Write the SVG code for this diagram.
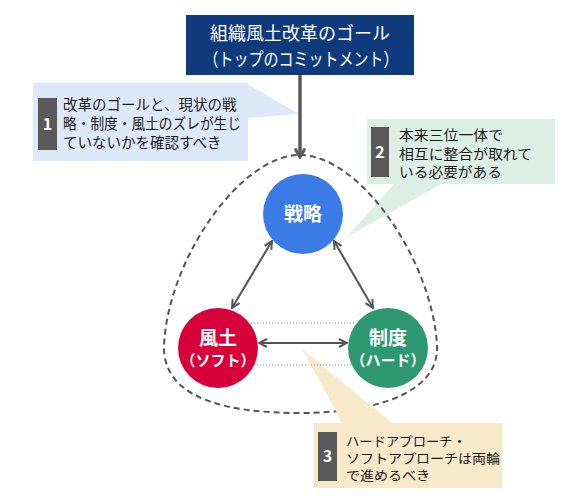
<svg xmlns="http://www.w3.org/2000/svg" width="585" height="500" viewBox="0 0 585 500">
  <style>
    text { font-family: "Noto Sans CJK JP", "Noto Sans", "Liberation Sans", sans-serif; }
    .goal { fill: #ffffff; font-size: 18px; }
    .note { fill: #1a1a1a; font-size: 14.5px; }
    .note2 { fill: #1a1a1a; font-size: 14px; }
    .note3 { fill: #1a1a1a; font-size: 13px; }
    .num { fill: #ffffff; font-size: 16px; font-weight: bold; text-anchor: middle; }
    .numbox { fill: #595959; }
    .big { fill: #ffffff; font-size: 19px; font-weight: bold; text-anchor: middle; }
    .small { fill: #ffffff; font-size: 15px; font-weight: bold; text-anchor: middle; }
    .conn { stroke: #555555; stroke-width: 2; fill: none; }
    .dots { stroke: #8c8c8c; stroke-width: 1; stroke-dasharray: 1 2; fill: none; }
  </style>
  <defs>
    <marker id="chev" viewBox="0 0 10 10" refX="9" refY="5" markerWidth="10" markerHeight="10" markerUnits="userSpaceOnUse" orient="auto-start-reverse">
      <path d="M1,1 L9,5 L1,9" stroke="#555555" stroke-width="2" fill="none"/>
    </marker>
    <marker id="chevBig" viewBox="0 0 12 12" refX="10" refY="6" markerWidth="12" markerHeight="12" markerUnits="userSpaceOnUse" orient="auto">
      <path d="M1.5,1 L10,6 L1.5,11" stroke="#595959" stroke-width="3" fill="none"/>
    </marker>
  </defs>

  <g id="callout1">
    <polygon points="247,84 299,114 247,118" fill="#dde8f8"/>
    <rect x="33" y="83" width="215" height="78" fill="#dde8f8"/>
    <rect class="numbox" x="38" y="98" width="19" height="52"/>
    <text class="num" x="47.5" y="130">1</text>
    <text class="note" x="63" y="110">改革のゴールと、現状の戦</text>
    <text class="note" x="63" y="129" textLength="178" lengthAdjust="spacingAndGlyphs">略・制度・風土のズレが生じ</text>
    <text class="note" x="63" y="148">ていないかを確認すべき</text>
  </g>

  <g id="callout2">
    <polygon points="395,183 443,183 347,237" fill="#ddeee6"/>
    <rect x="367" y="119" width="188" height="65" fill="#ddeee6"/>
    <rect class="numbox" x="371" y="127" width="18" height="50"/>
    <text class="num" x="380" y="158">2</text>
    <text class="note2" x="399" y="140" textLength="104" lengthAdjust="spacingAndGlyphs">本来三位一体で</text>
    <text class="note2" x="399" y="159" textLength="133" lengthAdjust="spacingAndGlyphs">相互に整合が取れて</text>
    <text class="note2" x="399" y="177" textLength="103" lengthAdjust="spacingAndGlyphs">いる必要がある</text>
  </g>

  <g id="boundary">
    <path d="M300,155 C360,155 432,260 437,345 C440,395 370,413 300,413 C230,413 162,400 164,345 C168,260 240,155 300,155 Z" fill="none" stroke="#555555" stroke-width="2" stroke-dasharray="6 4"/>
  </g>

  <g id="callout3">
    <polygon points="302,349 343,424 393,424" fill="#f7e9c9"/>
    <rect x="314" y="423" width="188" height="65" fill="#f7e9c9"/>
    <rect class="numbox" x="318" y="432" width="19" height="49"/>
    <text class="num" x="327.5" y="462">3</text>
    <text class="note3" x="346" y="446" textLength="120" lengthAdjust="spacingAndGlyphs">ハードアプローチ・</text>
    <text class="note3" x="346" y="463" textLength="154" lengthAdjust="spacingAndGlyphs">ソフトアプローチは両輪</text>
    <text class="note3" x="346" y="480" textLength="84" lengthAdjust="spacingAndGlyphs">で進めるべき</text>
  </g>

  <g id="guides">
    <line class="dots" x1="251" y1="323" x2="355" y2="323"/>
    <line class="dots" x1="251" y1="365" x2="355" y2="365"/>
  </g>

  <g id="goal">
    <rect x="186" y="15" width="228" height="60" fill="#0f3b7d"/>
    <text class="goal" x="300" y="40" text-anchor="middle">組織風土改革のゴール</text>
    <text class="goal" x="301" y="66" text-anchor="middle" textLength="195" lengthAdjust="spacingAndGlyphs">（トップのコミットメント）</text>
  </g>

  <g id="strategy">
    <circle cx="303" cy="214" r="40" fill="#3b7be6"/>
    <text class="big" x="303" y="221">戦略</text>
  </g>

  <g id="culture">
    <circle cx="218" cy="348" r="40" fill="#d7003a"/>
    <text class="big" x="218" y="345">風土</text>
    <text class="small" x="218" y="366">（ソフト）</text>
  </g>

  <g id="system">
    <circle cx="388" cy="348" r="40" fill="#2e9872"/>
    <text class="big" x="388" y="345">制度</text>
    <text class="small" x="388" y="366">（ハード）</text>
  </g>

  <g id="connectors">
    <line x1="300" y1="75" x2="300" y2="157" stroke="#595959" stroke-width="3.5" marker-end="url(#chevBig)"/>
    <line class="conn" x1="232" y1="308" x2="272" y2="241" marker-start="url(#chev)" marker-end="url(#chev)"/>
    <line class="conn" x1="373" y1="308" x2="334" y2="241" marker-start="url(#chev)" marker-end="url(#chev)"/>
    <line class="conn" x1="259" y1="343" x2="347" y2="343" marker-start="url(#chev)" marker-end="url(#chev)"/>
  </g>
</svg>
